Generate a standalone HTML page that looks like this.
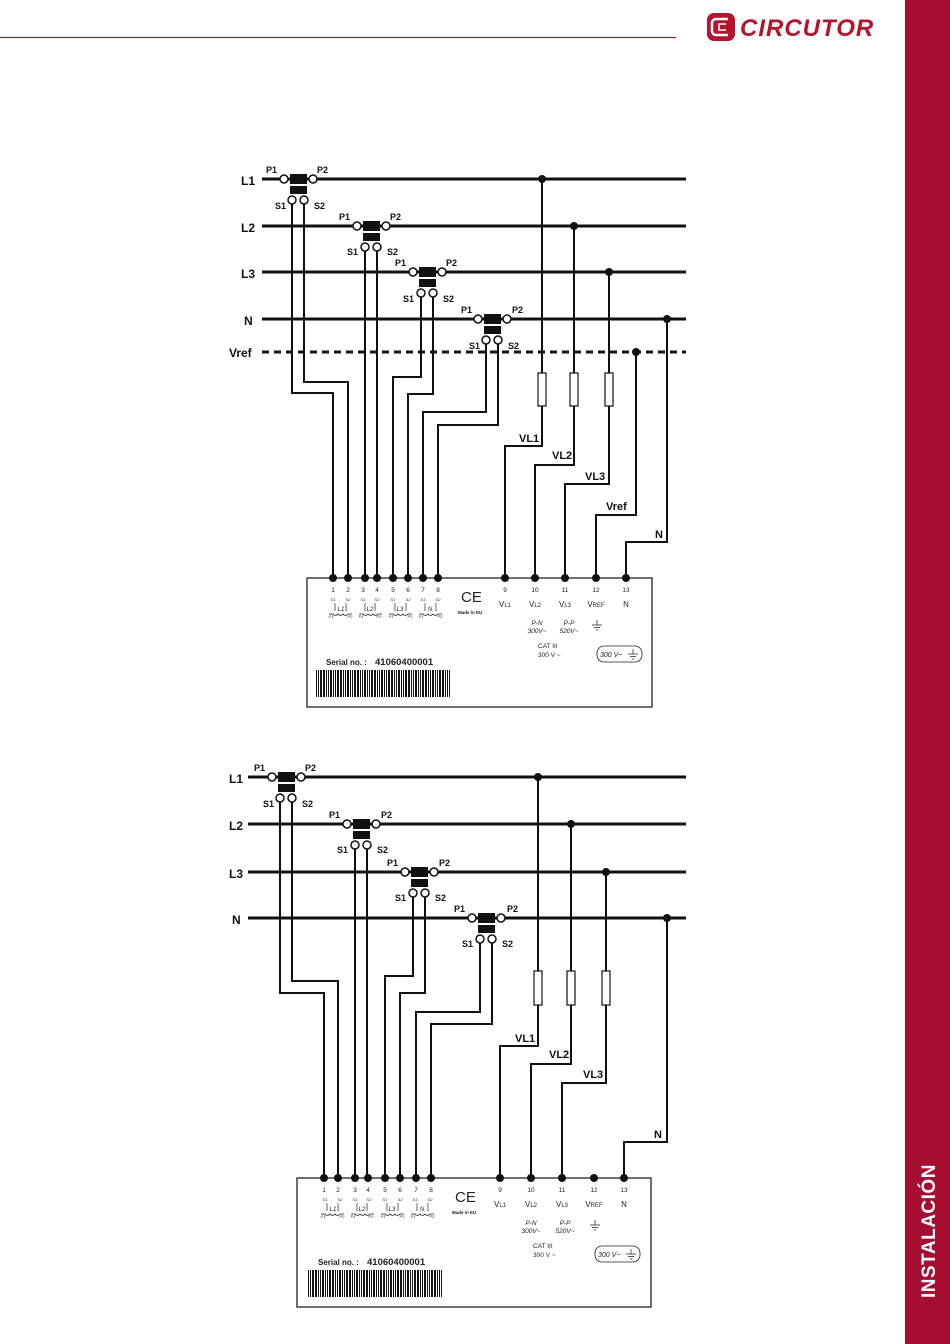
<!DOCTYPE html>
<html><head><meta charset="utf-8"><style>
html,body{margin:0;padding:0;background:#fff;}
svg{display:block;font-family:"Liberation Sans",Arial,sans-serif;}
</style></head><body>
<svg width="950" height="1344" viewBox="0 0 950 1344" xmlns="http://www.w3.org/2000/svg">
<defs>
<pattern id="bc" x="0" y="0" width="17" height="30" patternUnits="userSpaceOnUse">
<rect x="0" y="0" width="2" height="30" fill="#111"/><rect x="3" y="0" width="1" height="30" fill="#111"/>
<rect x="5" y="0" width="1" height="30" fill="#111"/><rect x="7" y="0" width="2" height="30" fill="#111"/>
<rect x="10" y="0" width="1" height="30" fill="#111"/><rect x="12" y="0" width="1" height="30" fill="#111"/>
<rect x="14" y="0" width="2" height="30" fill="#111"/>
</pattern>
<g id="ct">
<rect x="6" y="-5" width="17" height="10" fill="#111"/>
<rect x="6" y="7" width="17" height="8" fill="#111"/>
<circle cx="0" cy="0" r="4" fill="#fff" stroke="#111" stroke-width="1.5"/>
<circle cx="29" cy="0" r="4" fill="#fff" stroke="#111" stroke-width="1.5"/>
<circle cx="8" cy="21" r="4" fill="#fff" stroke="#111" stroke-width="1.5"/>
<circle cx="20" cy="21" r="4" fill="#fff" stroke="#111" stroke-width="1.5"/>
</g>
</defs>

<!-- header -->
<line x1="0" y1="37.5" x2="676" y2="37.5" stroke="#b01535" stroke-width="1.3"/>
<rect x="905" y="0" width="45" height="1344" fill="#a50e30"/>
<text transform="translate(935,1298) rotate(-90)" font-size="19" font-weight="bold" fill="#fff" letter-spacing="0.5">INSTALACIÓN</text>
<rect x="707" y="13" width="28" height="28" rx="7" fill="#b3142e"/>
<path d="M728 19 h-12 a4 4 0 0 0 -4 4 v8 a4 4 0 0 0 4 4 h12" fill="none" stroke="#fff" stroke-width="2.5"/>
<path d="M726 24 h-7 v6 h7" fill="none" stroke="#fff" stroke-width="1.5"/>
<text x="740" y="36" font-size="24" font-weight="bold" font-style="italic" fill="#b3142e" letter-spacing="1">CIRCUTOR</text>

<g stroke="#111" fill="none">
<g stroke-width="3">
<line x1="262" y1="179" x2="686" y2="179"/>
<line x1="262" y1="226" x2="686" y2="226"/>
<line x1="262" y1="272" x2="686" y2="272"/>
<line x1="262" y1="319" x2="686" y2="319"/>
<line x1="262" y1="352" x2="686" y2="352" stroke-dasharray="7,5"/>
</g>
<g stroke-width="2">
<polyline points="292,204 292,393 333,393 333,578"/>
<polyline points="304,204 304,382 348,382 348,578"/>
<polyline points="365,250 365,578"/>
<polyline points="377,250 377,578"/>
<polyline points="421,297 421,377 393,377 393,578"/>
<polyline points="433,297 433,394 408,394 408,578"/>
<polyline points="486,344 486,412 423,412 423,578"/>
<polyline points="498,344 498,425 438,425 438,578"/>
<polyline points="542,179 542,373"/><polyline points="542,406 542,446 505,446 505,578"/>
<polyline points="574,226 574,373"/><polyline points="574,406 574,465 535,465 535,578"/>
<polyline points="609,272 609,373"/><polyline points="609,406 609,484 565,484 565,578"/>
<polyline points="636,352 636,515 596,515 596,578"/>
<polyline points="667,319 667,542 626,542 626,578"/>
</g>
<g stroke-width="1.2" fill="#fff">
<rect x="538" y="373" width="8" height="33"/><rect x="570" y="373" width="8" height="33"/><rect x="605" y="373" width="8" height="33"/>
</g>
<rect x="307" y="578" width="345" height="129" stroke-width="1.2"/>

<g stroke-width="3">
<line x1="248" y1="777" x2="686" y2="777"/>
<line x1="248" y1="824" x2="686" y2="824"/>
<line x1="248" y1="872" x2="686" y2="872"/>
<line x1="248" y1="918" x2="686" y2="918"/>
</g>
<g stroke-width="2">
<polyline points="280,802 280,993 324,993 324,1178"/>
<polyline points="292,802 292,981 338,981 338,1178"/>
<polyline points="355,848 355,1178"/>
<polyline points="367,848 367,1178"/>
<polyline points="413,897 413,976 385,976 385,1178"/>
<polyline points="425,897 425,993 400,993 400,1178"/>
<polyline points="480,943 480,1012 416,1012 416,1178"/>
<polyline points="492,943 492,1024 431,1024 431,1178"/>
<polyline points="538,777 538,971"/><polyline points="538,1005 538,1046 500,1046 500,1178"/>
<polyline points="571,824 571,971"/><polyline points="571,1005 571,1064 531,1064 531,1178"/>
<polyline points="606,872 606,971"/><polyline points="606,1005 606,1083 562,1083 562,1178"/>
<polyline points="667,918 667,1142 624,1142 624,1178"/>
</g>
<g stroke-width="1.2" fill="#fff">
<rect x="534" y="971" width="8" height="34"/><rect x="567" y="971" width="8" height="34"/><rect x="602" y="971" width="8" height="34"/>
</g>
<rect x="297" y="1178" width="354" height="129" stroke-width="1.2"/>
</g>

<use href="#ct" x="284" y="179"/><use href="#ct" x="357" y="226"/><use href="#ct" x="413" y="272"/><use href="#ct" x="478" y="319"/>
<use href="#ct" x="272" y="777"/><use href="#ct" x="347" y="824"/><use href="#ct" x="405" y="872"/><use href="#ct" x="472" y="918"/>

<g fill="#111">
<circle cx="542" cy="179" r="4"/><circle cx="574" cy="226" r="4"/><circle cx="609" cy="272" r="4"/><circle cx="667" cy="319" r="4"/><circle cx="636" cy="352" r="4"/>
<circle cx="333" cy="578" r="4"/><circle cx="348" cy="578" r="4"/><circle cx="365" cy="578" r="4"/><circle cx="377" cy="578" r="4"/><circle cx="393" cy="578" r="4"/><circle cx="408" cy="578" r="4"/><circle cx="423" cy="578" r="4"/><circle cx="438" cy="578" r="4"/>
<circle cx="505" cy="578" r="4"/><circle cx="535" cy="578" r="4"/><circle cx="565" cy="578" r="4"/><circle cx="596" cy="578" r="4"/><circle cx="626" cy="578" r="4"/>
<circle cx="538" cy="777" r="4"/><circle cx="571" cy="824" r="4"/><circle cx="606" cy="872" r="4"/><circle cx="667" cy="918" r="4"/>
<circle cx="324" cy="1178" r="4"/><circle cx="338" cy="1178" r="4"/><circle cx="355" cy="1178" r="4"/><circle cx="368" cy="1178" r="4"/><circle cx="385" cy="1178" r="4"/><circle cx="400" cy="1178" r="4"/><circle cx="416" cy="1178" r="4"/><circle cx="431" cy="1178" r="4"/>
<circle cx="500" cy="1178" r="4"/><circle cx="531" cy="1178" r="4"/><circle cx="562" cy="1178" r="4"/><circle cx="594" cy="1178" r="4"/><circle cx="624" cy="1178" r="4"/>
</g>

<g font-weight="bold" fill="#111">
<text x="241" y="185" font-size="12">L1</text><text x="241" y="232" font-size="12">L2</text><text x="241" y="278" font-size="12">L3</text><text x="244" y="325" font-size="12">N</text><text x="229" y="357" font-size="12">Vref</text>
<g font-size="9">
<text x="266" y="173">P1</text><text x="317" y="173">P2</text><text x="275" y="209">S1</text><text x="314" y="209">S2</text>
<text x="339" y="220">P1</text><text x="390" y="220">P2</text><text x="347" y="255">S1</text><text x="387" y="255">S2</text>
<text x="395" y="266">P1</text><text x="446" y="266">P2</text><text x="403" y="302">S1</text><text x="443" y="302">S2</text>
<text x="461" y="313">P1</text><text x="512" y="313">P2</text><text x="469" y="349">S1</text><text x="508" y="349">S2</text>
</g>
<g font-size="11">
<text x="519" y="442">VL1</text><text x="552" y="459">VL2</text><text x="585" y="480">VL3</text><text x="606" y="510">Vref</text><text x="655" y="538">N</text>
</g>
<text x="229" y="783" font-size="12">L1</text><text x="229" y="830" font-size="12">L2</text><text x="229" y="878" font-size="12">L3</text><text x="232" y="924" font-size="12">N</text>
<g font-size="9">
<text x="254" y="771">P1</text><text x="305" y="771">P2</text><text x="263" y="807">S1</text><text x="302" y="807">S2</text>
<text x="329" y="818">P1</text><text x="381" y="818">P2</text><text x="337" y="853">S1</text><text x="377" y="853">S2</text>
<text x="387" y="866">P1</text><text x="439" y="866">P2</text><text x="395" y="901">S1</text><text x="435" y="901">S2</text>
<text x="454" y="912">P1</text><text x="507" y="912">P2</text><text x="462" y="947">S1</text><text x="502" y="947">S2</text>
</g>
<g font-size="11">
<text x="515" y="1042">VL1</text><text x="549" y="1058">VL2</text><text x="583" y="1078">VL3</text><text x="654" y="1138">N</text>
</g>
</g>

<g fill="#222">
<g font-size="6.5" text-anchor="middle">
<text x="333" y="592">1</text><text x="348" y="592">2</text><text x="363" y="592">3</text><text x="377" y="592">4</text><text x="393" y="592">5</text><text x="408" y="592">6</text><text x="423" y="592">7</text><text x="438" y="592">8</text>
<text x="505" y="592">9</text><text x="535" y="592">10</text><text x="565" y="592">11</text><text x="596" y="592">12</text><text x="626" y="592">13</text>
</g>
<g font-size="4" font-style="italic" text-anchor="middle">
<text x="333" y="601">S1</text><text x="348" y="601">S2</text><text x="363" y="601">S1</text><text x="377" y="601">S2</text><text x="393" y="601">S1</text><text x="408" y="601">S2</text><text x="423" y="601">S1</text><text x="438" y="601">S2</text>
<text x="331" y="618">P1</text><text x="350" y="618">P2</text><text x="361" y="618">P1</text><text x="379" y="618">P2</text><text x="391" y="618">P1</text><text x="410" y="618">P2</text><text x="421" y="618">P1</text><text x="440" y="618">P2</text>
</g>
<g font-size="6" font-style="italic" text-anchor="middle">
<text x="341" y="611">L1</text><text x="370" y="611">L2</text><text x="400" y="611">L3</text><text x="430" y="611">N</text>
</g>
<g stroke="#222" stroke-width="0.7" fill="none">
<path d="M335 603v8M346 603v8M365 603v8M375 603v8M395 603v8M406 603v8M425 603v8M436 603v8"/>
<path d="M329 614h4 a3 3 0 0 0 5 0 a3 3 0 0 0 5 0 a3 3 0 0 0 5 0h4"/>
<path d="M359 614h4 a3 3 0 0 0 5 0 a3 3 0 0 0 5 0 a3 3 0 0 0 5 0h4"/>
<path d="M389 614h4 a3 3 0 0 0 5 0 a3 3 0 0 0 5 0 a3 3 0 0 0 5 0h4"/>
<path d="M419 614h4 a3 3 0 0 0 5 0 a3 3 0 0 0 5 0 a3 3 0 0 0 5 0h4"/>
</g>
<text x="461" y="602" font-size="15">CE</text>
<text x="458" y="614" font-size="4.5" font-weight="bold">Made in EU</text>
<g font-size="8" text-anchor="middle">
<text x="505" y="607">V<tspan font-size="6">L1</tspan></text><text x="535" y="607">V<tspan font-size="6">L2</tspan></text><text x="565" y="607">V<tspan font-size="6">L3</tspan></text><text x="596" y="607">V<tspan font-size="6">REF</tspan></text><text x="626" y="607">N</text>
</g>
<g font-size="6.5" font-style="italic" text-anchor="middle">
<text x="537" y="625">P-N</text><text x="537" y="633">300V~</text><text x="569" y="625">P-P</text><text x="569" y="633">520V~</text>
</g>
<g stroke="#222" stroke-width="0.8"><path d="M597 620v5M592 625h10M594 627.5h6M596 630h2"/></g>
<text x="538" y="648" font-size="6.5">CAT III</text><text x="538" y="657" font-size="6.5">300 V ~</text>
<rect x="597" y="646" width="45" height="16" rx="7" fill="none" stroke="#222" stroke-width="0.8"/>
<text x="600" y="657" font-size="7" font-style="italic">300 V~</text>
<g stroke="#222" stroke-width="0.7"><path d="M633 649v5M628 654h10M630 656.5h6M632 659h2"/></g>
<text x="326" y="665" font-size="8" font-weight="bold">Serial no. :</text>
<text x="375" y="665" font-size="9.5" font-weight="bold">41060400001</text>
<rect x="316" y="670" width="134" height="27" fill="url(#bc)"/>
</g>

<g fill="#222" transform="translate(-8,600)">
<g font-size="6.5" text-anchor="middle">
<text x="332" y="592">1</text><text x="346" y="592">2</text><text x="363" y="592">3</text><text x="376" y="592">4</text><text x="393" y="592">5</text><text x="408" y="592">6</text><text x="424" y="592">7</text><text x="439" y="592">8</text>
<text x="508" y="592">9</text><text x="539" y="592">10</text><text x="570" y="592">11</text><text x="602" y="592">12</text><text x="632" y="592">13</text>
</g>
<g font-size="4" font-style="italic" text-anchor="middle">
<text x="333" y="601">S1</text><text x="348" y="601">S2</text><text x="363" y="601">S1</text><text x="377" y="601">S2</text><text x="393" y="601">S1</text><text x="408" y="601">S2</text><text x="423" y="601">S1</text><text x="438" y="601">S2</text>
<text x="331" y="618">P1</text><text x="350" y="618">P2</text><text x="361" y="618">P1</text><text x="379" y="618">P2</text><text x="391" y="618">P1</text><text x="410" y="618">P2</text><text x="421" y="618">P1</text><text x="440" y="618">P2</text>
</g>
<g font-size="6" font-style="italic" text-anchor="middle">
<text x="341" y="611">L1</text><text x="370" y="611">L2</text><text x="400" y="611">L3</text><text x="430" y="611">N</text>
</g>
<g stroke="#222" stroke-width="0.7" fill="none">
<path d="M335 603v8M346 603v8M365 603v8M375 603v8M395 603v8M406 603v8M425 603v8M436 603v8"/>
<path d="M329 614h4 a3 3 0 0 0 5 0 a3 3 0 0 0 5 0 a3 3 0 0 0 5 0h4"/>
<path d="M359 614h4 a3 3 0 0 0 5 0 a3 3 0 0 0 5 0 a3 3 0 0 0 5 0h4"/>
<path d="M389 614h4 a3 3 0 0 0 5 0 a3 3 0 0 0 5 0 a3 3 0 0 0 5 0h4"/>
<path d="M419 614h4 a3 3 0 0 0 5 0 a3 3 0 0 0 5 0 a3 3 0 0 0 5 0h4"/>
</g>
<text x="463" y="602" font-size="15">CE</text>
<text x="460" y="614" font-size="4.5" font-weight="bold">Made in EU</text>
<g font-size="8" text-anchor="middle">
<text x="508" y="607">V<tspan font-size="6">L1</tspan></text><text x="539" y="607">V<tspan font-size="6">L2</tspan></text><text x="570" y="607">V<tspan font-size="6">L3</tspan></text><text x="602" y="607">V<tspan font-size="6">REF</tspan></text><text x="632" y="607">N</text>
</g>
<g font-size="6.5" font-style="italic" text-anchor="middle">
<text x="539" y="625">P-N</text><text x="539" y="633">300V~</text><text x="573" y="625">P-P</text><text x="573" y="633">520V~</text>
</g>
<g stroke="#222" stroke-width="0.8"><path d="M603 620v5M598 625h10M600 627.5h6M602 630h2"/></g>
<text x="541" y="648" font-size="6.5">CAT III</text><text x="541" y="657" font-size="6.5">300 V ~</text>
<rect x="603" y="646" width="45" height="16" rx="7" fill="none" stroke="#222" stroke-width="0.8"/>
<text x="606" y="657" font-size="7" font-style="italic">300 V~</text>
<g stroke="#222" stroke-width="0.7"><path d="M639 649v5M634 654h10M636 656.5h6M638 659h2"/></g>
<text x="326" y="665" font-size="8" font-weight="bold">Serial no. :</text>
<text x="375" y="665" font-size="9.5" font-weight="bold">41060400001</text>
<rect x="316" y="670" width="134" height="27" fill="url(#bc)"/>
</g>
</svg>
</body></html>
